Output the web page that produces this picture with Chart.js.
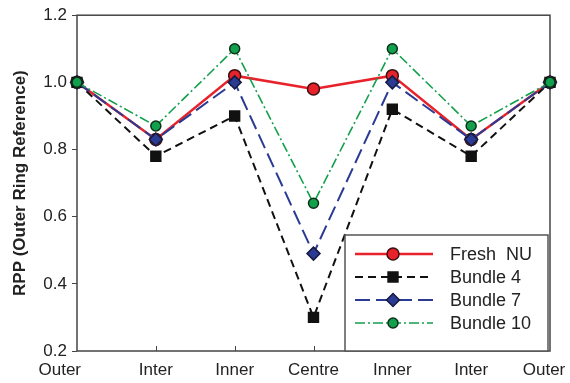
<!DOCTYPE html>
<html>
<head>
<meta charset="utf-8">
<script src="https://cdn.jsdelivr.net/npm/chart.js@4/dist/chart.umd.min.js"></script>
<style>
  html, body { margin: 0; padding: 0; background: #fff; }
  #wrap { width: 570px; height: 383px; }
</style>
</head>
<body>
<div id="wrap"><canvas id="c" width="570" height="383"></canvas></div>
<script>
// Radial positions across the bundle
const positions = ['Outer', 'Inter', 'Inner', 'Centre', 'Inner', 'Inter', 'Outer'];

// Relative power peaking, normalised to the outer ring
const freshNU  = [1.00, 0.83, 1.02, 0.98, 1.02, 0.83, 1.00];
const bundle4  = [1.00, 0.78, 0.90, 0.30, 0.92, 0.78, 1.00];
const bundle7  = [1.00, 0.83, 1.00, 0.49, 1.00, 0.83, 1.00];
const bundle10 = [1.00, 0.87, 1.10, 0.64, 1.10, 0.87, 1.00];

const yTicks = [0.2, 0.4, 0.6, 0.8, 1.0, 1.2];

const FONT = '"Liberation Sans", Arial, sans-serif';
const AXIS = '#444';
const TEXT = '#222';

// later series are drawn over earlier ones (lower order = on top)
const series = [
  { label: 'Fresh  NU', data: freshNU,  color: '#e8222a', dash: [],            width: 2.5, style: 'circle',  radius: 6,   pb: '#3a1010', order: 3 },
  { label: 'Bundle 4',  data: bundle4,  color: '#111111', dash: [8, 5],        width: 2,   style: 'rect',    radius: 7,   pb: '#111111', order: 2 },
  { label: 'Bundle 7',  data: bundle7,  color: '#2b3a93', dash: [15, 6],       width: 2,   style: 'rectRot', radius: 6.5, pb: '#151a40', order: 1 },
  { label: 'Bundle 10', data: bundle10, color: '#12a04c', dash: [10, 3, 2, 3], width: 1.6, style: 'circle',  radius: 5,   pb: '#0d3018', order: 0 }
];

function drawMarker(ctx, s, x, y) {
  ctx.save();
  ctx.setLineDash([]);
  ctx.fillStyle = s.color;
  ctx.strokeStyle = s.pb;
  ctx.lineWidth = 1.5;
  ctx.beginPath();
  if (s.style === 'circle') {
    ctx.arc(x, y, s.radius, 0, Math.PI * 2);
  } else if (s.style === 'rect') {
    const h = s.radius * Math.SQRT1_2;
    ctx.rect(x - h, y - h, 2 * h, 2 * h);
  } else {
    const r = s.radius;
    ctx.moveTo(x, y - r); ctx.lineTo(x + r, y); ctx.lineTo(x, y + r); ctx.lineTo(x - r, y); ctx.closePath();
  }
  ctx.fill();
  ctx.stroke();
  ctx.restore();
}

// Frame, inner x ticks, x labels and the boxed legend
const decor = {
  id: 'decor',
  beforeDatasetsDraw(chart) {
    const { ctx, chartArea: a, scales: { x } } = chart;
    ctx.save();
    ctx.strokeStyle = AXIS;
    ctx.lineWidth = 1.5;
    ctx.strokeRect(a.left, a.top, a.right - a.left, a.bottom - a.top);
    ctx.beginPath();
    for (let i = 1; i < positions.length - 1; i++) {
      const px = Math.round(x.getPixelForValue(i)) + 0.5;
      ctx.moveTo(px, a.bottom);
      ctx.lineTo(px, a.bottom - 5);
    }
    ctx.lineWidth = 1;
    ctx.stroke();

    ctx.fillStyle = TEXT;
    ctx.font = '17px ' + FONT;
    ctx.textBaseline = 'middle';
    positions.forEach((p, i) => {
      const px = x.getPixelForValue(i);
      if (i === 0) { ctx.textAlign = 'right'; ctx.fillText(p, px + 4, a.bottom + 19); }
      else if (i === positions.length - 1) { ctx.textAlign = 'center'; ctx.fillText(p, px - 6, a.bottom + 19); }
      else { ctx.textAlign = 'center'; ctx.fillText(p, px, a.bottom + 19); }
    });
    ctx.restore();
  },
  afterDatasetsDraw(chart) {
    const { ctx, chartArea: a } = chart;
    const bx = a.right - 205, by = a.bottom - 116, bw = 203, bh = 116;
    ctx.save();
    ctx.fillStyle = '#fff';
    ctx.fillRect(bx, by, bw, bh);
    ctx.strokeStyle = '#555';
    ctx.lineWidth = 1.5;
    ctx.strokeRect(bx, by, bw, bh);
    series.forEach((s, i) => {
      const ry = by + 19 + i * 23;
      ctx.save();
      ctx.strokeStyle = s.color;
      ctx.lineWidth = s.width;
      ctx.setLineDash(s.dash);
      ctx.beginPath();
      ctx.moveTo(bx + 10, ry);
      ctx.lineTo(bx + 88, ry);
      ctx.stroke();
      ctx.restore();
      drawMarker(ctx, s, bx + 48, ry);
      ctx.fillStyle = TEXT;
      ctx.font = '18px ' + FONT;
      ctx.textAlign = 'left';
      ctx.textBaseline = 'middle';
      ctx.fillText(s.label, bx + 105, ry + 1);
    });
    ctx.restore();
  }
};

new Chart(document.getElementById('c'), {
  type: 'line',
  data: {
    labels: positions,
    datasets: series.map(s => ({
      label: s.label,
      data: s.data,
      borderColor: s.color,
      backgroundColor: s.color,
      borderWidth: s.width,
      borderDash: s.dash,
      pointStyle: s.style,
      pointRadius: s.radius,
      pointBackgroundColor: s.color,
      pointBorderColor: s.pb,
      pointBorderWidth: 1.5,
      tension: 0,
      fill: false,
      order: s.order
    }))
  },
  options: {
    responsive: false,
    animation: false,
    devicePixelRatio: 1,
    layout: { padding: { top: 13, right: 20, left: 0, bottom: 0 } },
    plugins: { legend: { display: false }, tooltip: { enabled: false } },
    scales: {
      x: {
        type: 'category',
        offset: false,
        grid: { display: false },
        border: { display: false },
        ticks: { display: false },
        afterFit(s) { s.height = 32; }
      },
      y: {
        min: 0.2,
        max: 1.2,
        afterBuildTicks(s) { s.ticks = yTicks.map(v => ({ value: v })); },
        ticks: {
          color: TEXT,
          padding: 5,
          font: { family: FONT, size: 17 },
          callback: v => Number(v).toFixed(1)
        },
        grid: { drawOnChartArea: false, tickLength: 5, color: AXIS, lineWidth: 1 },
        border: { display: false },
        title: {
          display: true,
          text: 'RPP (Outer Ring Reference)',
          color: TEXT,
          font: { family: FONT, size: 17, weight: 'bold' },
          padding: { top: 10, bottom: 0 }
        },
        afterFit(s) { s.width = 77; }
      }
    }
  },
  plugins: [decor]
});
</script>
</body>
</html>
